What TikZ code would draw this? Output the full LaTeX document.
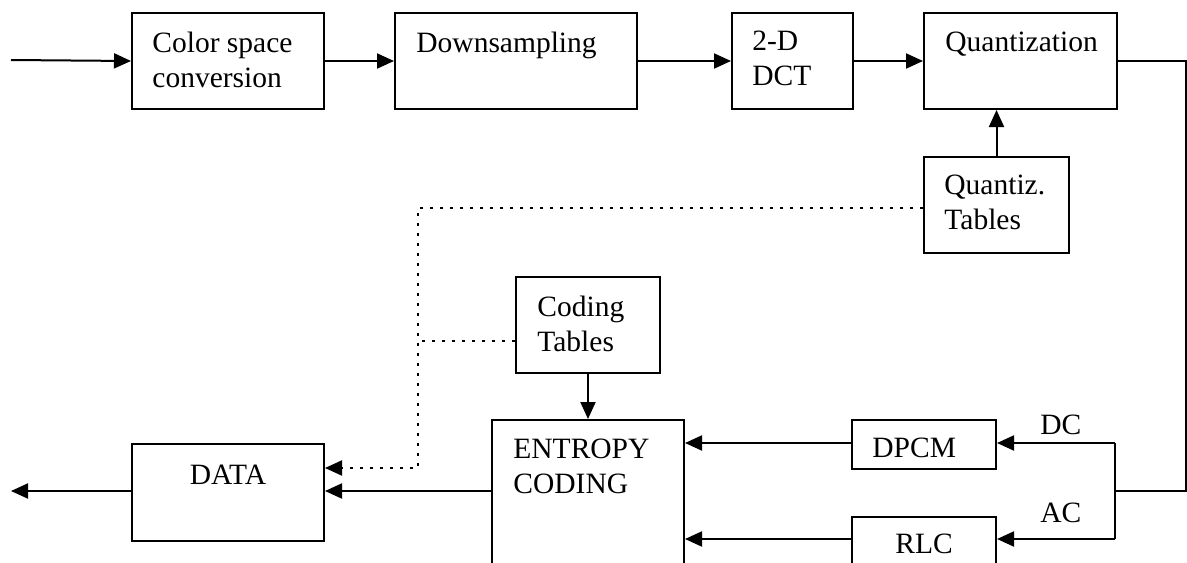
\documentclass[tikz,border=0pt]{standalone}
\usepackage{fontspec}
\setmainfont{Liberation Serif}
\usetikzlibrary{arrows.meta}
\begin{document}
\begin{tikzpicture}[x=0.5pt,y=-0.5pt,
  box/.style={draw,line width=1pt,rectangle,anchor=north west,inner sep=0pt,minimum height=48pt},
  txt/.style={anchor=north west,inner sep=0pt,align=left,font=\fontsize{14.75pt}{17.5pt}\selectfont},
  arr/.style={line width=1pt,-{Triangle[length=8.5pt,width=7.5pt]}},
  dotline/.style={line width=1.3pt,dash pattern=on 1.3pt off 3.7pt}]
	\useasboundingbox(0,0)rectangle(1187,562);
	\clip(0,0)rectangle(1187,562);

	% blocks
	\node[box,minimum width=96pt](csc)at(131,12){};
	\node[box,minimum width=121pt](down)at(394,12){};
	\node[box,minimum width=60.5pt](dct)at(731,12){};
	\node[box,minimum width=96.5pt](quant)at(923,12){};
	\node[box,minimum width=72.5pt](qtab)at(923,156){};
	\node[box,minimum width=72pt](ctab)at(515,276){};
	\node[box,minimum width=96pt,minimum height=73pt](ent)at(491,419){};
	\node[box,minimum width=96pt,minimum height=48.5pt](data)at(131,443){};
	\node[box,minimum width=72pt,minimum height=24.5pt](dpcm)at(851,419){};
	\node[box,minimum width=72pt,minimum height=24.5pt](rlc)at(851,516){};

	% texts
	\node[txt](csc-t)at([shift={(21,20)}]csc.north west){Color space\\conversion};
	\node[txt](down-t)at([shift={(22,20)}]down.north west){Downsampling};
	\node[txt](dct-t)at([shift={(21,19)}]dct.north west){2-D\\DCT};
	\node[txt](quant-t)at([shift={(22,20)}]quant.north west){Quantization};
	\node[txt](qtab-t)at([shift={(21,19)}]qtab.north west){Quantiz.\\Tables};
	\node[txt](ctab-t)at([shift={(22,20)}]ctab.north west){Coding\\Tables};
	\node[txt](ent-t)at([shift={(22,20)}]ent.north west){ENTROPY\\CODING};
	\node[txt,anchor=north](data-t)at([shift={(0,22)}]data.north){DATA};
	\node[txt](dpcm-t)at([shift={(21,19)}]dpcm.north west){DPCM};
	\node[txt,anchor=north](rlc-t)at([shift={(0,18)}]rlc.north){RLC};
	\node[txt](dc)at(1040,415){DC};
	\node[txt](ac)at(1040,503){AC};

	% connectors
	\coordinate(in)at(11,60);
	\coordinate(out)at(11,491);
	\coordinate(edge)at(1186,491);
	\coordinate(jdc)at(1115,443);
	\coordinate(jmid)at(1115,491);
	\coordinate(jac)at(1115,539);
	\coordinate(dcorner)at(418,468);
	\coordinate(cdot)at([yshift=-8pt]ctab.west);

	\draw[arr](in)--(csc.west);
	\draw[arr](csc.east)--(down.west);
	\draw[arr](down.east)--(dct.west);
	\draw[arr](dct.east)--(quant.west);
	\draw[arr](qtab.north)--(qtab.north|-quant.south);
	\draw[line width=1pt](quant.east)-|(edge)--(jmid);
	\draw[line width=1pt](jdc)--(jac);
	\draw[arr](jdc)--(jdc-|dpcm.east);
	\draw[arr](jac)--(jac-|rlc.east);
	\draw[arr](dpcm.west|-jdc)--(jdc-|ent.east);
	\draw[arr](rlc.west|-jac)--(jac-|ent.east);
	\draw[arr](ctab.south)--(ctab.south|-ent.north);
	\draw[arr](ent.west|-out)--(out-|data.east);
	\draw[arr](data.west|-out)--(out);

	% dotted table links
	\draw[dotline,arr]([yshift=-1.5pt]qtab.west)-|(dcorner)--(dcorner-|data.east);
	\draw[dotline](cdot)--(cdot-|dcorner);
\end{tikzpicture}
\end{document}
